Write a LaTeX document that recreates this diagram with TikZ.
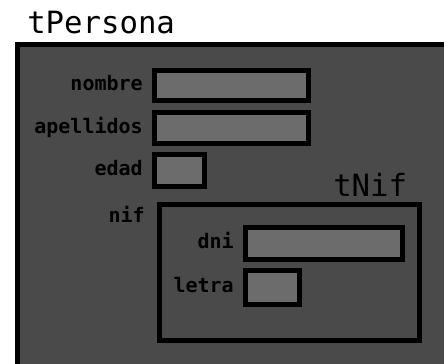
\documentclass[tikz,border=0pt]{standalone}
\usepackage{fontspec}
\setmonofont{DejaVu Sans Mono}
\usetikzlibrary{positioning}
\definecolor{panelGray}{RGB}{74,74,74}
\definecolor{fieldGray}{RGB}{108,108,108}

\begin{document}
\begin{tikzpicture}
[x=0.75pt,y=-0.75pt,
frame/.style={draw=black,line width=3.75pt,fill=panelGray,inner sep=0pt},
field/.style={draw=black,line width=3.75pt,fill=fieldGray,inner sep=0pt},
typeLabel/.style={font=\fontsize{23}{23}\selectfont\ttfamily,inner sep=0pt},
fieldLabel/.style={font=\fontsize{15}{15}\selectfont\ttfamily\bfseries,inner sep=0pt,text height=0.75em,text depth=0pt}]
\useasboundingbox (0,0) rectangle (444,364);
\clip (0,0) rectangle (444,364);
\node[frame,minimum width=339.4pt,minimum height=259.1pt] (persona) at (243.75,217.25) {};
\node[typeLabel,anchor=base west] (personaTitle) at (27,34) {tPersona};

\node[field,minimum width=115.5pt,minimum height=22.5pt] (nombre) at (231.5,85.5) {};
\node[field,minimum width=115.5pt,minimum height=23.25pt] (apellidos) at (231.5,128) {};
\node[field,minimum width=37.5pt,minimum height=24pt] (edad) at (179.5,170.5) {};
\node[fieldLabel,left=6.75pt of nombre] (nombreLabel) {nombre};
\node[fieldLabel,left=6.75pt of apellidos] (apellidosLabel) {apellidos};
\node[fieldLabel,left=6.75pt of edad] (edadLabel) {edad};

\node[frame,minimum width=195pt,minimum height=102pt] (nif) at (289.5,272.5) {};
\node[typeLabel,anchor=base west] (nifTitle) at (333,196) {tNif};
\node[fieldLabel,anchor=east] (nifLabel) at (145,218) {nif};
\node[field,minimum width=117.75pt,minimum height=24pt] (dni) at (324,243.5) {};
\node[field,minimum width=40.5pt,minimum height=25.5pt] (letra) at (272.5,287.5) {};
\node[fieldLabel,left=6.75pt of dni] (dniLabel) {dni};
\node[fieldLabel,left=6.75pt of letra] (letraLabel) {letra};
\end{tikzpicture}
\end{document}
